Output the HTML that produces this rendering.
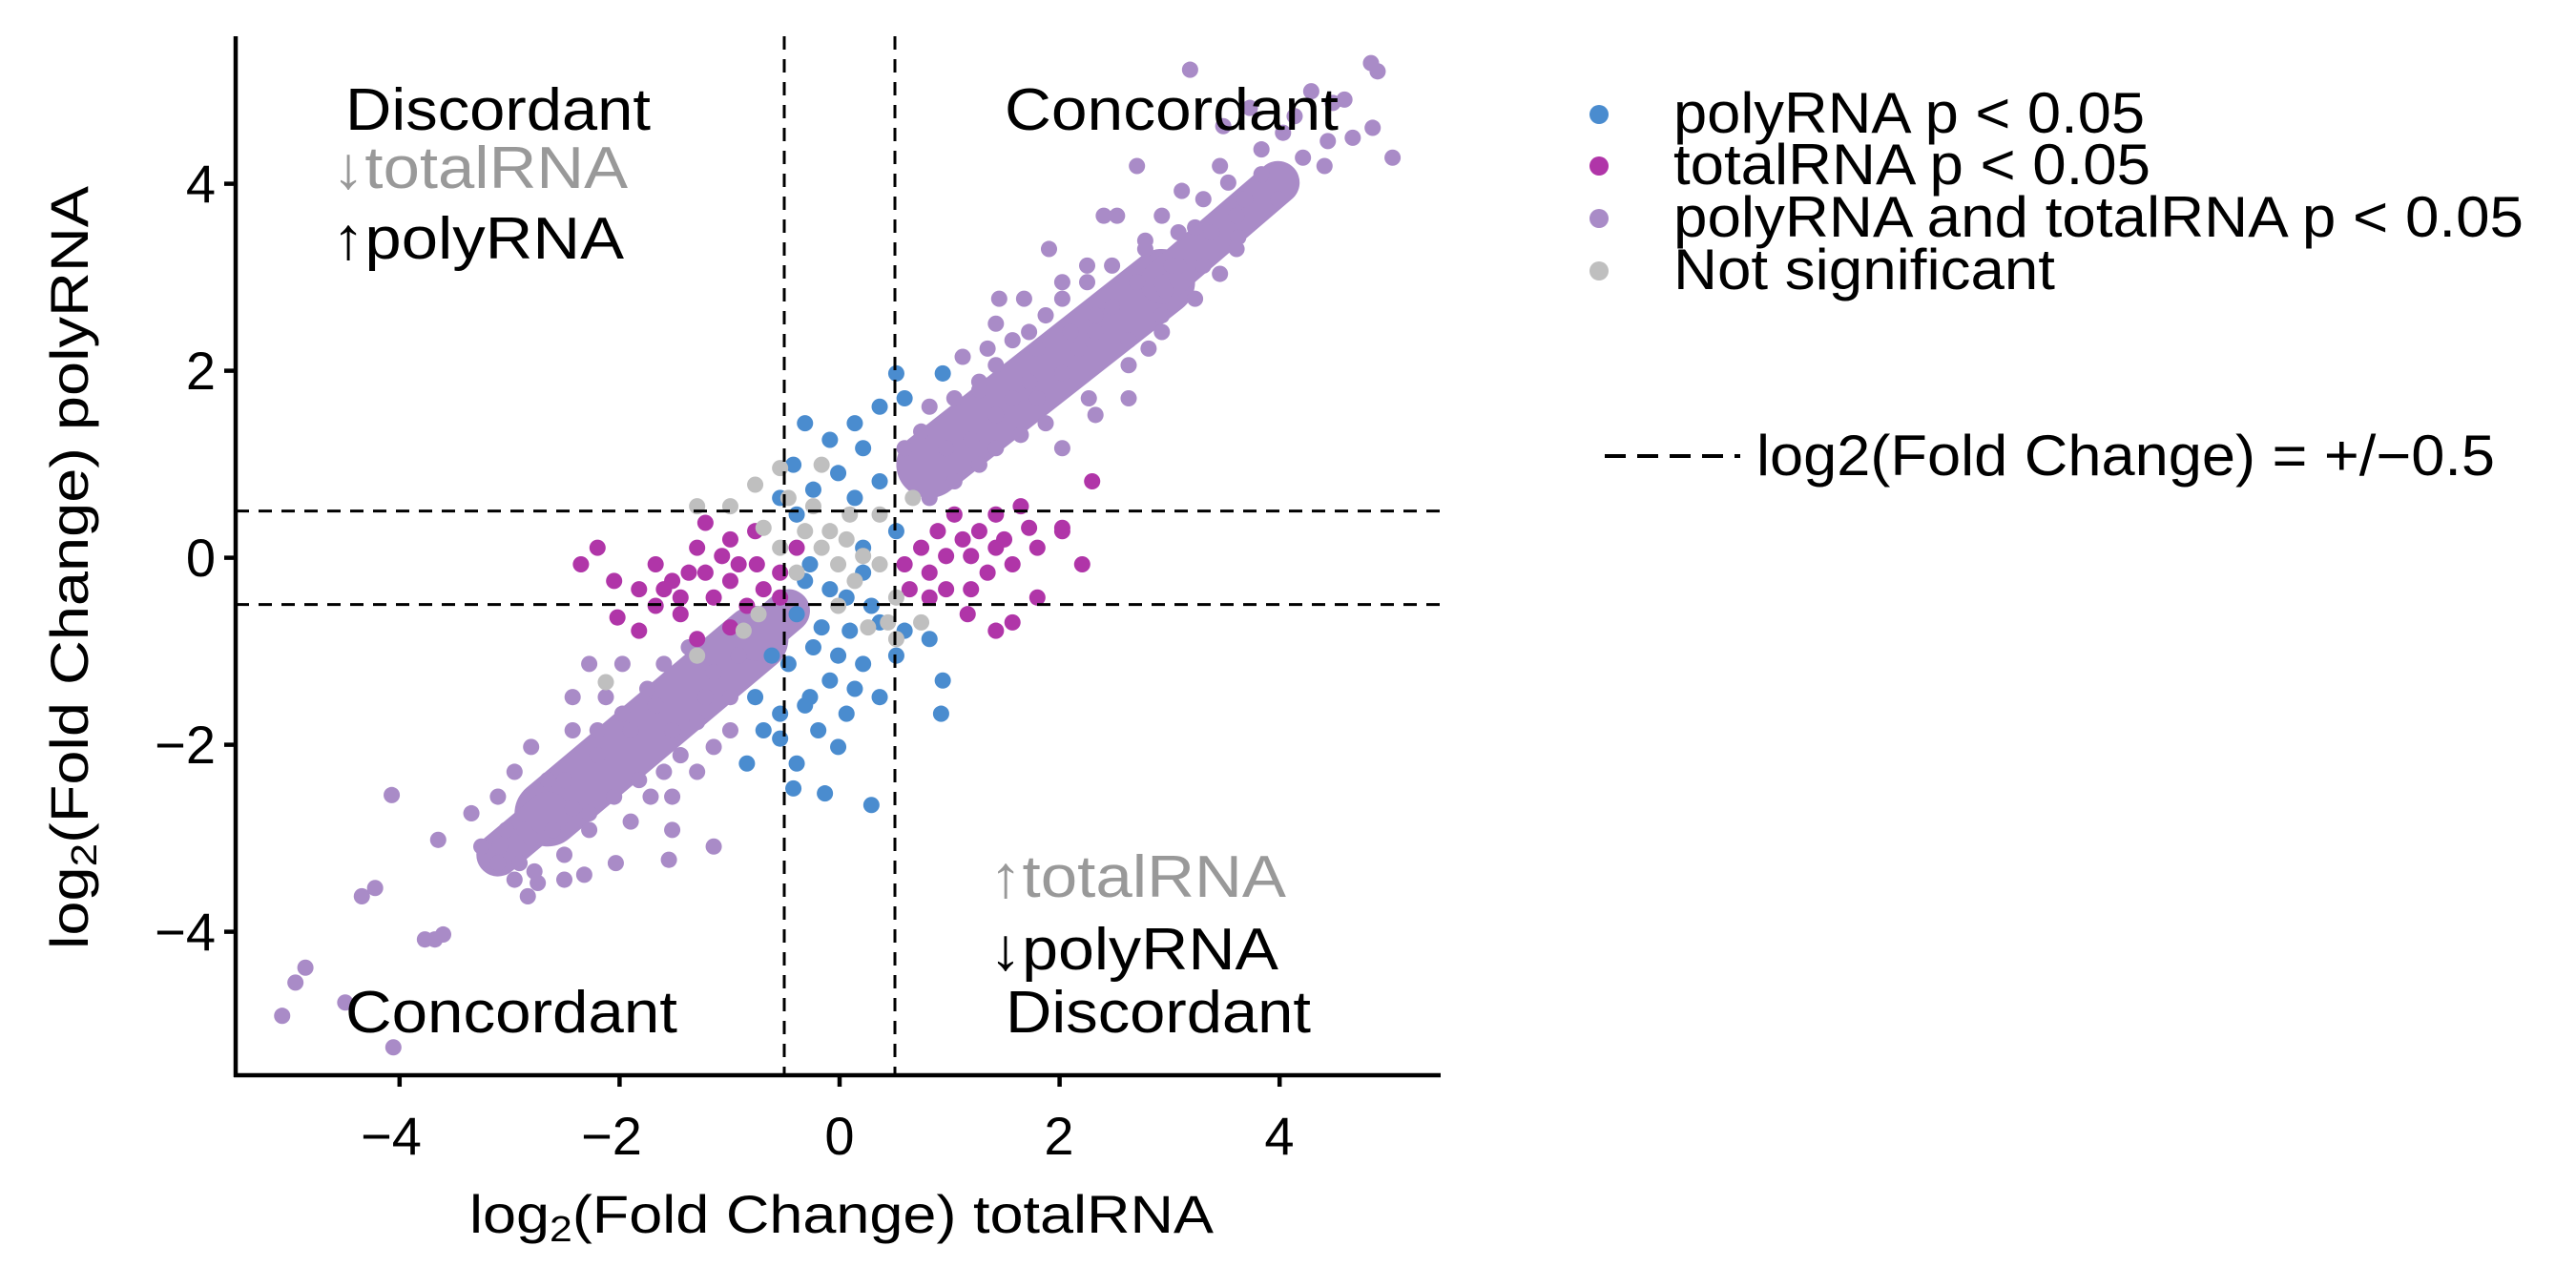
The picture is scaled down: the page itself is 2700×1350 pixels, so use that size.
<!DOCTYPE html>
<html><head><meta charset="utf-8"><style>
html,body{margin:0;padding:0;background:#fff;}
svg{display:block;font-family:"Liberation Sans",Arial,sans-serif;}
</style></head><body>
<svg width="2700" height="1350" viewBox="0 0 2700 1350" xmlns="http://www.w3.org/2000/svg">
<g transform="scale(1.7397)" fill="none" stroke-linecap="round">
<g stroke="#a98bc7">
<path stroke-width="40" d="M330 490L455 385M560 280L700 170"/>
<path stroke-width="26" d="M455 385L475 368M700 170L770 110M330 490L300 515"/>
<path stroke-width="9.8" d="M170 612h0M178 592h0M184 583h0M208 604h0M237 631h0M256 566h0M262 566h0M267 563h0M226 535h0M218 540h0M236 479h0M264 506h0M284 490h0M301 510h0M313 520h0M324 532h0M340 530h0M352 527h0M371 520h0M403 518h0M392 480h0M430 510h0M405 500h0M345 487h0M316 500h0M717 42h0M826 38h0M830 43h0M803 62h0M790 55h0M815 83h0M839 95h0M827 77h0M773 80h0M753 65h0M737 76h0M735 100h0M785 95h0M760 105h0M712 115h0M685 100h0M690 145h0M700 130h0M746 143h0M725 160h0M702 175h0M692 210h0M680 240h0M660 250h0M610 240h0M590 235h0M625 210h0M610 205h0M640 170h0M655 160h0M660 190h0M745 130h0M770 120h0M798 100h0M673 130h0M632 150h0M602 180h0M595 210h0M617 180h0M750 120h0M720 137h0M660 200h0M700 200h0M706 160h0M365 420h0M345 440h0M330 470h0M310 465h0M300 480h0M340 470h0M380 440h0M395 425h0M420 435h0M430 450h0M410 455h0M400 465h0M385 470h0M370 480h0M355 490h0M320 505h0M305 500h0M290 510h0M300 520h0M318 540h0M322 525h0M340 515h0M355 500h0M380 495h0M405 480h0M420 465h0M440 440h0M360 455h0M333 500h0M310 530h0M560 245h0M575 240h0M590 230h0M600 220h0M620 200h0M640 180h0M655 170h0M670 160h0M690 150h0M710 140h0M725 120h0M740 110h0M600 250h0M625 240h0M640 225h0M650 210h0M680 205h0M700 190h0M720 180h0M735 165h0M745 150h0M570 270h0M585 265h0M600 270h0M615 262h0M630 255h0M560 300h0M575 290h0M590 280h0M640 270h0M656 240h0M680 220h0M700 170h0M665 130h0M760 90h0M780 70h0M800 85h0M810 60h0M400 400h0M390 415h0M375 430h0M415 390h0M430 405h0M445 395h0M425 420h0M360 440h0M355 400h0M345 420h0M375 400h0M320 450h0M405 440h0M440 420h0M545 270h0M555 260h0M620 230h0M645 200h0M670 185h0M580 215h0M600 195h0M630 190h0M685 170h0M710 160h0M730 140h0"/>
</g>
<path stroke="#4a8ccf" stroke-width="9.8" d="M540 225h0M545 240h0M568 225h0M530 245h0M515 255h0M485 255h0M500 265h0M520 270h0M478 280h0M505 285h0M490 295h0M530 290h0M470 300h0M515 300h0M520 330h0M540 320h0M488 340h0M500 355h0M510 360h0M525 365h0M480 370h0M495 378h0M512 380h0M530 375h0M545 380h0M490 390h0M505 395h0M520 400h0M475 400h0M500 410h0M488 420h0M515 415h0M470 430h0M493 440h0M505 450h0M480 460h0M497 478h0M525 485h0M478 475h0M470 445h0M460 440h0M455 420h0M568 410h0M567 430h0M560 385h0M450 460h0M485 425h0M530 420h0M510 430h0M540 395h0M465 395h0M485 350h0M520 345h0M480 310h0"/>
<path stroke="#b035a8" stroke-width="9.8" d="M385 355h0M370 350h0M400 355h0M410 360h0M415 345h0M425 345h0M430 360h0M440 350h0M445 340h0M420 330h0M395 340h0M385 380h0M410 370h0M420 385h0M440 378h0M450 365h0M460 355h0M470 345h0M440 325h0M425 315h0M455 320h0M360 330h0M372 372h0M350 340h0M555 330h0M560 345h0M570 335h0M580 325h0M590 320h0M600 330h0M595 345h0M610 340h0M585 355h0M570 355h0M560 360h0M545 340h0M620 318h0M625 330h0M600 310h0M615 305h0M640 318h0M652 340h0M658 290h0M640 320h0M575 310h0M610 375h0M600 380h0M625 360h0M583 370h0M548 355h0M456 340h0M470 360h0M480 330h0M395 365h0M405 350h0M435 335h0M565 320h0M585 335h0M605 325h0"/>
<path stroke="#bfbfbf" stroke-width="9.8" d="M455 292h0M470 282h0M440 305h0M420 305h0M495 280h0M490 305h0M500 320h0M510 325h0M520 335h0M505 340h0M495 330h0M485 320h0M480 345h0M515 350h0M530 340h0M540 360h0M535 375h0M523 378h0M505 365h0M470 330h0M457 370h0M448 380h0M460 318h0M475 300h0M512 310h0M530 310h0M550 300h0M555 375h0M420 395h0M365 411h0M540 385h0"/>
</g>
<g stroke="#000" stroke-width="3" stroke-dasharray="14,10" fill="none">
<line x1="822" y1="38" x2="822" y2="1127"/>
<line x1="938" y1="38" x2="938" y2="1127"/>
<line x1="247" y1="535.6" x2="1510" y2="535.6"/>
<line x1="247" y1="633.6" x2="1510" y2="633.6"/>
</g>
<g stroke="#000" stroke-width="4.5" fill="none">
<line x1="247" y1="38" x2="247" y2="1129"/>
<line x1="245" y1="1127" x2="1510" y2="1127"/>
<line x1="235" y1="192.6" x2="247" y2="192.6"/>
<line x1="235" y1="388.6" x2="247" y2="388.6"/>
<line x1="235" y1="584.6" x2="247" y2="584.6"/>
<line x1="235" y1="780.6" x2="247" y2="780.6"/>
<line x1="235" y1="976.6" x2="247" y2="976.6"/>
<line x1="418.8" y1="1127" x2="418.8" y2="1139"/>
<line x1="649.4" y1="1127" x2="649.4" y2="1139"/>
<line x1="880" y1="1127" x2="880" y2="1139"/>
<line x1="1110.6" y1="1127" x2="1110.6" y2="1139"/>
<line x1="1341.2" y1="1127" x2="1341.2" y2="1139"/>
</g>
<g font-size="56" fill="#000" text-anchor="end">
<text x="226" y="212">4</text><text x="226" y="408">2</text><text x="226" y="604">0</text><text x="226" y="800">−2</text><text x="226" y="996">−4</text>
</g>
<g font-size="56" fill="#000" text-anchor="middle">
<text x="410" y="1210">−4</text><text x="641" y="1210">−2</text><text x="880" y="1210">0</text><text x="1110" y="1210">2</text><text x="1341" y="1210">4</text>
</g>
<text x="492" y="1292" font-size="56" textLength="780" lengthAdjust="spacingAndGlyphs">log<tspan font-size="38" dy="9">2</tspan><tspan dy="-9">(Fold Change) totalRNA</tspan></text>
<text transform="translate(92,995) rotate(-90)" font-size="56" textLength="800" lengthAdjust="spacingAndGlyphs">log<tspan font-size="38" dy="9">2</tspan><tspan dy="-9">(Fold Change) polyRNA</tspan></text>
<g font-size="62">
<text x="362" y="136" textLength="320" lengthAdjust="spacingAndGlyphs">Discordant</text>
<text x="348" y="197" fill="#999" textLength="310" lengthAdjust="spacingAndGlyphs">↓totalRNA</text>
<text x="348" y="271" textLength="306" lengthAdjust="spacingAndGlyphs">↑polyRNA</text>
<text x="1053" y="136" textLength="350" lengthAdjust="spacingAndGlyphs">Concordant</text>
<text x="1037" y="940" fill="#999" textLength="311" lengthAdjust="spacingAndGlyphs">↑totalRNA</text>
<text x="1037" y="1016" textLength="303" lengthAdjust="spacingAndGlyphs">↓polyRNA</text>
<text x="1054" y="1082" textLength="320" lengthAdjust="spacingAndGlyphs">Discordant</text>
<text x="362" y="1082" textLength="348" lengthAdjust="spacingAndGlyphs">Concordant</text>
</g>
<g>
<circle cx="1676" cy="120" r="10" fill="#4a8ccf"/>
<circle cx="1676" cy="174" r="10" fill="#b035a8"/>
<circle cx="1676" cy="229" r="10" fill="#a98bc7"/>
<circle cx="1676" cy="284" r="10" fill="#bfbfbf"/>
</g>
<g font-size="60">
<text x="1754" y="139" textLength="494" lengthAdjust="spacingAndGlyphs">polyRNA p &lt; 0.05</text>
<text x="1754" y="193" textLength="500" lengthAdjust="spacingAndGlyphs">totalRNA p &lt; 0.05</text>
<text x="1754" y="248" textLength="891" lengthAdjust="spacingAndGlyphs">polyRNA and totalRNA p &lt; 0.05</text>
<text x="1754" y="303" textLength="400" lengthAdjust="spacingAndGlyphs">Not significant</text>
<line x1="1682" y1="478" x2="1824" y2="478" stroke="#000" stroke-width="4" stroke-dasharray="22,12"/>
<text x="1841" y="498" textLength="774" lengthAdjust="spacingAndGlyphs">log2(Fold Change) = +/−0.5</text>
</g>
</svg>
</body></html>
